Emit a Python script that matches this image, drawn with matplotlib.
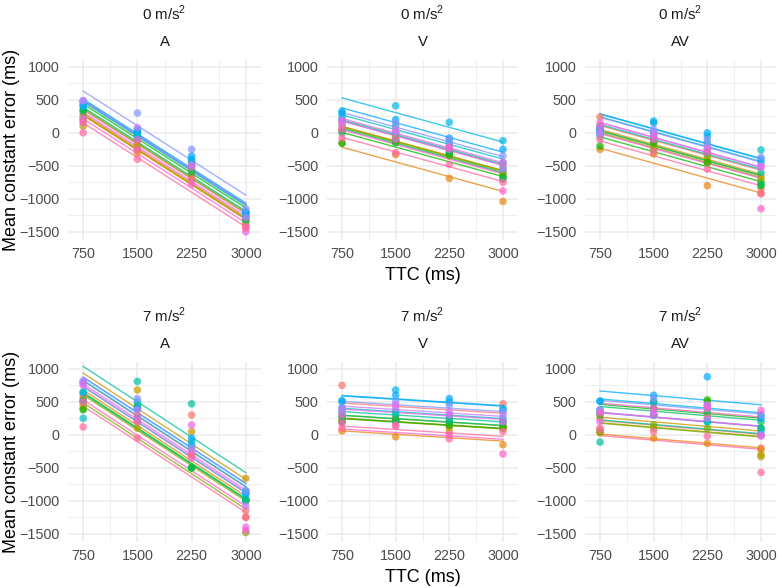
"""Constant error by TTC, per participant, faceted by acceleration and modality."""
import numpy as np
import matplotlib
matplotlib.use("Agg")
import matplotlib.pyplot as plt

plt.rcParams["font.family"] = ["Liberation Sans", "DejaVu Sans"]
plt.rcParams["mathtext.fontset"] = "custom"
plt.rcParams["mathtext.rm"] = "Liberation Sans"

# time to contact levels (ms)
ttc = [750, 1500, 2250, 3000]
accels = ["0", "7"]
modalities = ["A", "V", "AV"]

# mean constant error (ms), one row per participant, columns follow ttc
ce_0_a = [
    [300, -150, -600, -1300],
    [200, -300, -500, -1400],
    [180, -250, -650, -1350],
    [100, -200, -700, -1300],
    [250, -100, -550, -1280],
    [350, -50, -450, -1250],
    [330, 0, -600, -1330],
    [450, 50, -500, -1200],
    [480, 0, -420, -1250],
    [400, -50, -400, -1220],
    [420, 30, -350, -1200],
    [480, 300, -250, -1150],
    [490, 80, -480, -1280],
    [220, -100, -520, -1500],
    [150, -250, -780, -1420],
    [0, -400, -700, -1450],
]
ce_0_v = [
    [150, -20, -250, -500],
    [-150, -330, -690, -1040],
    [50, -100, -300, -600],
    [100, -50, -350, -650],
    [30, -120, -320, -600],
    [-160, -150, -330, -670],
    [0, -100, -280, -700],
    [200, 0, -200, -550],
    [250, 100, -150, -450],
    [330, 410, 160, -120],
    [300, 200, -80, -250],
    [200, 150, -100, -350],
    [120, 0, -200, -550],
    [180, 50, -250, -450],
    [50, -100, -220, -880],
    [-80, -300, -480, -750],
]
ce_0_av = [
    [240, 0, -300, -850],
    [-250, -320, -800, -920],
    [100, -150, -450, -650],
    [50, -200, -400, -700],
    [0, -250, -350, -750],
    [-200, -150, -450, -800],
    [-50, -100, -300, -780],
    [50, -50, -250, -600],
    [30, 0, -150, -260],
    [100, 180, -50, -450],
    [50, 150, 0, -400],
    [0, 50, -100, -370],
    [-20, 0, -200, -500],
    [80, -50, -250, -520],
    [150, -100, -300, -1150],
    [-100, -280, -550, -920],
]
ce_7_a = [
    [600, 300, 300, -1150],
    [550, 400, -200, -1250],
    [450, 680, 50, -660],
    [400, 100, -300, -1000],
    [500, 200, -500, -1480],
    [380, 450, -500, -980],
    [520, 250, -500, -980],
    [650, 810, 470, -1000],
    [250, 400, -100, -850],
    [640, 500, -150, -900],
    [800, 400, -50, -880],
    [780, 550, -200, -850],
    [820, 380, -250, -1080],
    [750, 250, 150, -1400],
    [500, 200, -350, -1450],
    [120, -50, -300, -1250],
]
ce_7_v = [
    [750, 250, 150, 470],
    [60, -30, 50, -150],
    [200, 250, 150, 100],
    [250, 200, 120, 100],
    [300, 220, 200, 150],
    [200, 220, 150, 120],
    [280, 200, 200, 200],
    [350, 300, 250, 200],
    [400, 350, 300, 250],
    [500, 680, 500, 400],
    [520, 600, 550, 380],
    [420, 500, 450, 350],
    [380, 400, 350, 300],
    [300, 450, 300, 200],
    [180, 150, 0, -290],
    [100, 130, -60, 50],
]
ce_7_av = [
    [100, 300, 250, -200],
    [30, -50, -130, -220],
    [250, 400, 300, -300],
    [50, 100, 500, -330],
    [40, 150, 100, 0],
    [300, 500, 530, 100],
    [350, 400, 350, 200],
    [-110, 300, 200, 100],
    [380, 300, 200, 50],
    [510, 500, 450, 300],
    [510, 600, 880, 250],
    [380, 550, 450, 300],
    [350, 350, 250, 0],
    [200, 300, 450, -20],
    [330, 400, 400, 370],
    [80, 50, -20, -570],
]

panel_data = {
    ("0", "A"): ce_0_a, ("0", "V"): ce_0_v, ("0", "AV"): ce_0_av,
    ("7", "A"): ce_7_a, ("7", "V"): ce_7_v, ("7", "AV"): ce_7_av,
}


def hue_pal(n, c=100.0, l=65.0):
    """ggplot2 style hue palette (polar Luv)."""
    hues = np.linspace(15, 375, n + 1)[:n]
    xn, yn, zn = 95.047, 100.0, 108.883
    un = 4 * xn / (xn + 15 * yn + 3 * zn)
    vn = 9 * yn / (xn + 15 * yn + 3 * zn)
    out = []
    for h in hues:
        u = c * np.cos(np.radians(h))
        v = c * np.sin(np.radians(h))
        y = yn * ((l + 16) / 116) ** 3
        up = u / (13 * l) + un
        vp = v / (13 * l) + vn
        x = 9 * y * up / (4 * vp)
        z = -x / 3 - 5 * y + 3 * y / vp
        x, y, z = x / 100, y / 100, z / 100
        rgb = np.array([
            3.240479 * x - 1.537150 * y - 0.498535 * z,
            -0.969256 * x + 1.875992 * y + 0.041556 * z,
            0.055648 * x - 0.204043 * y + 1.057311 * z,
        ])
        rgb = np.where(rgb > 0.0031308,
                       1.055 * np.abs(rgb) ** (1 / 2.4) - 0.055, 12.92 * rgb)
        out.append(tuple(np.clip(rgb, 0, 1)))
    return out


W, H = 778, 587
fig = plt.figure(figsize=(W / 100, H / 100), dpi=100)
fig.patch.set_facecolor("white")

# panel boxes in pixels
col_x = [(68, 261), (327, 518), (585, 776)]
row_y = [(60, 240), (362, 542)]

n_part = len(ce_0_a)
colors = hue_pal(n_part)
xs = np.array(ttc, dtype=float)
xfit = np.array([xs.min(), xs.max()])

for r, acc in enumerate(accels):
    y0, y1 = row_y[r]
    for c, mod in enumerate(modalities):
        x0, x1 = col_x[c]
        ax = fig.add_axes([x0 / W, 1 - y1 / H, (x1 - x0) / W, (y1 - y0) / H])
        vals = np.array(panel_data[(acc, mod)], dtype=float)

        # random-intercept style fit: one common slope, own intercept each
        slope = np.polyfit(np.tile(xs, len(vals)), vals.ravel(), 1)[0]
        for i, row in enumerate(vals):
            icpt = row.mean() - slope * xs.mean()
            ax.plot(xfit, icpt + slope * xfit, color=colors[i], lw=1.0,
                    alpha=0.75, zorder=2)
        for i, row in enumerate(vals):
            ax.scatter(xs, row, s=30, color=colors[i], alpha=0.7,
                       edgecolors="none", zorder=3)

        ax.set_xlim(540, 3210)
        ax.set_ylim(-1624, 1104)
        ax.set_xticks(ttc)
        ax.set_xticks([1125, 1875, 2625], minor=True)
        ax.set_yticks([-1500, -1000, -500, 0, 500, 1000])
        ax.set_yticks([-1250, -750, -250, 250, 750], minor=True)
        ax.grid(which="major", color="#EBEBEB", lw=1.1)
        ax.grid(which="minor", color="#EBEBEB", lw=0.55)
        ax.set_axisbelow(True)
        for sp in ax.spines.values():
            sp.set_visible(False)
        ax.tick_params(which="both", length=0, labelsize=10.4,
                       colors="#4D4D4D")
        ax.tick_params(axis="x", pad=5)
        ax.tick_params(axis="y", pad=6)

        xc = (x0 + x1) / 2 / W
        fig.text(xc, 1 - (y0 - 47) / H, acc + r" m/s$^{2}$", ha="center",
                 va="center", fontsize=10.8, color="#1A1A1A")
        fig.text(xc, 1 - (y0 - 18) / H, mod, ha="center", va="center",
                 fontsize=10.8, color="#1A1A1A")

    fig.text(12 / W, 1 - (y0 + y1) / 2 / H, "Mean constant error (ms)",
             rotation=90, ha="center", va="center", fontsize=13)
    fig.text((col_x[1][0] + col_x[1][1]) / 2 / W, 1 - (y1 + 35) / H,
             "TTC (ms)", ha="center", va="center", fontsize=13)

fig.savefig("out.png", dpi=100, facecolor="white")
